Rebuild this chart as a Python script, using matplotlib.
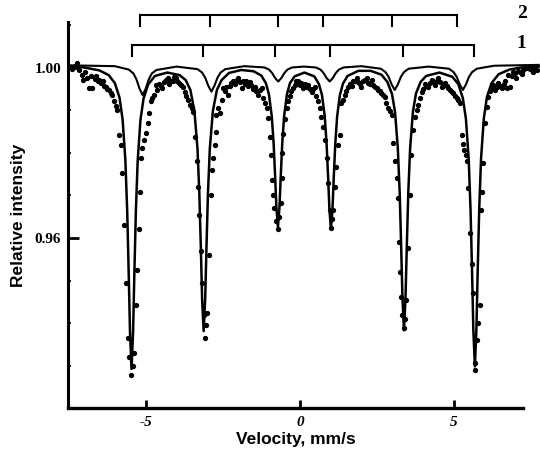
import matplotlib
matplotlib.use("Agg")
import matplotlib.pyplot as plt
from matplotlib.ticker import MultipleLocator

# measured spectrum (velocity mm/s, relative intensity)
vel = [-7.45, -7.38, -7.30, -7.22, -7.15, -7.08, -7.05, -6.97, -6.89, -6.84,
       -6.78, -6.73, -6.66, -6.62, -6.56, -6.51, -6.46, -6.40, -6.35, -6.30,
       -6.24, -6.19, -6.13, -6.08, -6.02, -5.97, -5.92, -5.87, -5.81, -5.76,
       -5.70, -5.65, -5.59, -5.53, -5.47, -5.42, -5.38, -5.30, -5.27, -5.22,
       -5.19, -5.16, -5.11, -5.05, -5.00, -4.94, -4.89, -4.84, -4.78, -4.73,
       -4.68, -4.62, -4.57, -4.51, -4.46, -4.40, -4.35, -4.29, -4.24, -4.18,
       -4.13, -4.08, -4.03, -3.97, -3.92, -3.86, -3.79, -3.73, -3.68, -3.62,
       -3.57, -3.51, -3.46, -3.41, -3.35, -3.30, -3.27, -3.22, -3.16, -3.11,
       -3.08, -3.04, -3.00, -2.95, -2.89, -2.84, -2.81, -2.76, -2.73, -2.71,
       -2.65, -2.60, -2.54, -2.49, -2.44, -2.38, -2.33, -2.27, -2.22, -2.16,
       -2.11, -2.05, -2.00, -1.95, -1.89, -1.84, -1.78, -1.73, -1.68, -1.62,
       -1.57, -1.51, -1.46, -1.41, -1.35, -1.30, -1.24, -1.19, -1.14, -1.08,
       -1.03, -0.97, -0.92, -0.89, -0.86, -0.83, -0.78, -0.72, -0.67, -0.62,
       -0.59, -0.57, -0.54, -0.49, -0.43, -0.38, -0.32, -0.27, -0.22, -0.16,
       -0.11, -0.05, 0.00, 0.05, 0.11, 0.16, 0.22, 0.27, 0.32, 0.38,
       0.43, 0.49, 0.54, 0.59, 0.65, 0.70, 0.76, 0.81, 0.87, 0.92,
       0.97, 1.01, 1.05, 1.08, 1.13, 1.19, 1.24, 1.29, 1.35, 1.40,
       1.46, 1.51, 1.57, 1.62, 1.68, 1.73, 1.78, 1.84, 1.89, 1.95,
       2.00, 2.05, 2.11, 2.17, 2.22, 2.27, 2.33, 2.38, 2.43, 2.49,
       2.54, 2.60, 2.65, 2.70, 2.76, 2.81, 2.87, 2.92, 2.98, 3.03,
       3.08, 3.14, 3.19, 3.21, 3.25, 3.28, 3.33, 3.38, 3.42, 3.46,
       3.52, 3.57, 3.62, 3.66, 3.73, 3.79, 3.84, 3.90, 3.95, 4.01,
       4.06, 4.11, 4.17, 4.22, 4.28, 4.33, 4.38, 4.44, 4.49, 4.55,
       4.60, 4.66, 4.71, 4.77, 4.82, 4.87, 4.93, 4.98, 5.04, 5.09,
       5.14, 5.19, 5.25, 5.30, 5.33, 5.38, 5.41, 5.47, 5.52, 5.58,
       5.63, 5.68, 5.70, 5.74, 5.79, 5.84, 5.88, 5.91, 5.95, 6.01,
       6.06, 6.11, 6.16, 6.22, 6.28, 6.33, 6.39, 6.44, 6.50, 6.55,
       6.61, 6.66, 6.71, 6.76, 6.82, 6.87, 6.93, 6.98, 7.03, 7.09,
       7.14, 7.20, 7.25, 7.31, 7.36, 7.42, 7.47, 7.53, 7.58, 7.64, 7.69]
inten = [1.0003, 0.9998, 1.0005, 1.0011, 0.9996, 0.9984, 0.9972, 0.9990, 0.9976, 0.9952,
         0.9982, 0.9952, 0.9974, 0.9980, 0.9968, 0.9972, 0.9964, 0.9970, 0.9958, 0.9956,
         0.9950, 0.9948, 0.9940, 0.9936, 0.9921, 0.9910, 0.9901, 0.9842, 0.9819, 0.9753,
         0.9631, 0.9493, 0.9364, 0.9320, 0.9278, 0.9300, 0.9329, 0.9442, 0.9525, 0.9620,
         0.9709, 0.9788, 0.9811, 0.9830, 0.9846, 0.9870, 0.9893, 0.9921, 0.9930, 0.9936,
         0.9960, 0.9948, 0.9962, 0.9958, 0.9952, 0.9966, 0.9972, 0.9975, 0.9962, 0.9970,
         0.9968, 0.9978, 0.9976, 0.9968, 0.9964, 0.9960, 0.9954, 0.9944, 0.9935, 0.9925,
         0.9913, 0.9905, 0.9897, 0.9838, 0.9780, 0.9720, 0.9654, 0.9570, 0.9493, 0.9420,
         0.9365, 0.9395, 0.9423, 0.9560, 0.9701, 0.9760, 0.9788, 0.9819, 0.9850, 0.9889,
         0.9905, 0.9893, 0.9925, 0.9952, 0.9945, 0.9955, 0.9936, 0.9958, 0.9964, 0.9970,
         0.9962, 0.9972, 0.9976, 0.9966, 0.9952, 0.9970, 0.9962, 0.9968, 0.9958, 0.9966,
         0.9960, 0.9950, 0.9955, 0.9945, 0.9936, 0.9948, 0.9952, 0.9930, 0.9918, 0.9905,
         0.9882, 0.9838, 0.9795, 0.9736, 0.9700, 0.9670, 0.9640, 0.9620, 0.9650, 0.9682,
         0.9740, 0.9800, 0.9845, 0.9880, 0.9905, 0.9921, 0.9935, 0.9945, 0.9952, 0.9960,
         0.9968, 0.9968, 0.9960, 0.9965, 0.9952, 0.9962, 0.9955, 0.9960, 0.9950, 0.9944,
         0.9950, 0.9956, 0.9935, 0.9921, 0.9905, 0.9885, 0.9862, 0.9830, 0.9788, 0.9730,
         0.9665, 0.9624, 0.9645, 0.9666, 0.9720, 0.9768, 0.9819, 0.9842, 0.9917, 0.9925,
         0.9936, 0.9945, 0.9956, 0.9962, 0.9958, 0.9968, 0.9970, 0.9976, 0.9966, 0.9962,
         0.9956, 0.9968, 0.9972, 0.9976, 0.9965, 0.9962, 0.9972, 0.9960, 0.9955, 0.9952,
         0.9948, 0.9945, 0.9940, 0.9936, 0.9932, 0.9918, 0.9905, 0.9898, 0.9889, 0.9823,
         0.9780, 0.9740, 0.9693, 0.9591, 0.9520, 0.9462, 0.9420, 0.9389, 0.9410, 0.9454,
         0.9576, 0.9701, 0.9795, 0.9854, 0.9885, 0.9900, 0.9913, 0.9930, 0.9944, 0.9950,
         0.9962, 0.9958, 0.9956, 0.9965, 0.9972, 0.9968, 0.9960, 0.9970, 0.9976, 0.9966,
         0.9956, 0.9962, 0.9964, 0.9958, 0.9952, 0.9948, 0.9944, 0.9940, 0.9934, 0.9929,
         0.9925, 0.9917, 0.9842, 0.9820, 0.9807, 0.9795, 0.9780, 0.9717, 0.9611, 0.9540,
         0.9470, 0.9305, 0.9290, 0.9360, 0.9400, 0.9442, 0.9666, 0.9709, 0.9776, 0.9870,
         0.9909, 0.9932, 0.9945, 0.9952, 0.9960, 0.9948, 0.9956, 0.9965, 0.9958, 0.9952,
         0.9962, 0.9970, 0.9952, 0.9984, 0.9956, 0.9980, 0.9990, 0.9988, 0.9975, 0.9993,
         0.9991, 0.9986, 0.9995, 1.0000, 0.9999, 1.0003, 0.9998, 0.9996, 0.9990, 1.0001, 0.9994]

# fitted subspectrum 1 (deep sextet)
fit1_v = [-7.50, -7.00, -6.50, -6.20, -6.00, -5.85, -5.75, -5.66, -5.60, -5.55,
          -5.51, -5.46, -5.41, -5.37, -5.32, -5.26, -5.17, -5.07, -4.92, -4.70,
          -4.30, -3.90, -3.70, -3.55, -3.42, -3.32, -3.26, -3.21, -3.17, -3.12,
          -3.07, -3.03, -2.98, -2.92, -2.82, -2.69, -2.54, -2.30, -1.90, -1.50,
          -1.25, -1.10, -1.00, -0.91, -0.85, -0.80, -0.76, -0.71, -0.66, -0.62,
          -0.57, -0.51, -0.42, -0.32, -0.17, 0.15, 0.47, 0.62, 0.72, 0.81,
          0.87, 0.92, 0.96, 1.01, 1.06, 1.10, 1.15, 1.21, 1.30, 1.40,
          1.55, 1.90, 2.30, 2.65, 2.84, 2.99, 3.09, 3.18, 3.24, 3.29,
          3.33, 3.38, 3.43, 3.47, 3.52, 3.58, 3.67, 3.77, 3.92, 4.10,
          4.53, 4.95, 5.14, 5.29, 5.39, 5.48, 5.54, 5.59, 5.63, 5.68,
          5.73, 5.77, 5.82, 5.88, 5.97, 6.07, 6.22, 6.45, 6.80, 7.20, 7.75]
fit1_i = [1.0003, 1.0001, 0.9994, 0.9983, 0.9964, 0.9930, 0.9879, 0.9783, 0.9662, 0.9512,
          0.9379, 0.9292, 0.9378, 0.9511, 0.9661, 0.9782, 0.9878, 0.9928, 0.9961, 0.9981,
          0.9989, 0.9983, 0.9971, 0.9948, 0.9899, 0.9810, 0.9705, 0.9574, 0.9457, 0.9381,
          0.9457, 0.9574, 0.9705, 0.9810, 0.9899, 0.9948, 0.9971, 0.9988, 0.9995, 0.9992,
          0.9982, 0.9964, 0.9937, 0.9886, 0.9823, 0.9743, 0.9672, 0.9626, 0.9672, 0.9743,
          0.9822, 0.9886, 0.9937, 0.9964, 0.9980, 0.9989, 0.9980, 0.9962, 0.9936, 0.9885,
          0.9820, 0.9740, 0.9668, 0.9620, 0.9668, 0.9740, 0.9820, 0.9885, 0.9936, 0.9963,
          0.9981, 0.9993, 0.9993, 0.9984, 0.9967, 0.9939, 0.9896, 0.9811, 0.9707, 0.9576,
          0.9460, 0.9383, 0.9461, 0.9577, 0.9708, 0.9812, 0.9897, 0.9940, 0.9967, 0.9981,
          0.9989, 0.9979, 0.9962, 0.9929, 0.9880, 0.9785, 0.9665, 0.9517, 0.9385, 0.9298,
          0.9386, 0.9518, 0.9666, 0.9786, 0.9881, 0.9931, 0.9964, 0.9985, 0.9996, 1.0001, 1.0003]

# fitted subspectrum 2 (shallow sextet)
fit2_v = [-7.50, -6.00, -5.55, -5.40, -5.30, -5.20, -5.10, -5.00, -4.90, -4.80,
          -4.65, -4.00, -3.32, -3.17, -3.07, -2.97, -2.87, -2.77, -2.67, -2.57,
          -2.42, -1.80, -1.15, -1.00, -0.90, -0.80, -0.70, -0.60, -0.50, -0.40,
          -0.25, 0.13, 0.52, 0.67, 0.77, 0.87, 0.97, 1.07, 1.17, 1.27,
          1.42, 2.00, 2.63, 2.78, 2.88, 2.98, 3.08, 3.18, 3.28, 3.38,
          3.53, 4.18, 4.84, 4.99, 5.09, 5.19, 5.29, 5.39, 5.49, 5.59,
          5.74, 6.30, 7.75]
fit2_i = [1.0006, 1.0004, 0.9996, 0.9987, 0.9973, 0.9951, 0.9936, 0.9951, 0.9973, 0.9987,
          0.9995, 1.0003, 0.9997, 0.9989, 0.9977, 0.9958, 0.9944, 0.9958, 0.9977, 0.9989,
          0.9997, 1.0004, 1.0001, 0.9996, 0.9988, 0.9976, 0.9968, 0.9976, 0.9988, 0.9996,
          1.0001, 1.0003, 1.0001, 0.9996, 0.9988, 0.9976, 0.9968, 0.9976, 0.9988, 0.9996,
          1.0001, 1.0004, 0.9998, 0.9990, 0.9979, 0.9961, 0.9948, 0.9961, 0.9979, 0.9990,
          0.9998, 1.0003, 0.9998, 0.9990, 0.9979, 0.9961, 0.9948, 0.9961, 0.9979, 0.9990,
          0.9998, 1.0005, 1.0007]

# line positions marked by the brackets
lines_1 = [-5.45, -3.15, -0.81, 0.97, 3.34, 5.65]
lines_2 = [-5.19, -2.92, -0.71, 0.75, 2.99, 5.10]

serif = "Liberation Serif"
sans = "Liberation Sans"

fig = plt.figure(figsize=(5.4, 4.57), dpi=100)
ax = fig.add_axes([0.126, 0.107, 0.843, 0.845])

ax.plot(fit2_v, fit2_i, color="black", lw=1.5, clip_on=False, zorder=3)
ax.plot(fit1_v, fit1_i, color="black", lw=1.8, clip_on=False, zorder=3)
ax.plot(vel, inten, linestyle="None", marker="o", ms=2.8, color="black",
        clip_on=False, zorder=4)

# brackets above the spectrum
for pos, y0, lab in [(lines_2, 1.01247, "2"), (lines_1, 1.00541, "1")]:
    ax.plot([pos[0], pos[-1]], [y0, y0], color="black", lw=1.5, clip_on=False)
    for p in pos:
        ax.plot([p, p], [y0, y0 - 0.0027], color="black", lw=1.5, clip_on=False)
    ax.text(7.2, y0 + 0.0004, lab, fontsize=14, fontweight="bold",
            family=serif, ha="center", va="center")

ax.set_xlim(-7.52, 7.25)
ax.set_ylim(0.92, 1.0108)

ax.spines["top"].set_visible(False)
ax.spines["right"].set_visible(False)
ax.spines["left"].set_linewidth(2.2)
ax.spines["bottom"].set_linewidth(2.4)

ax.set_xticks([-5, 0, 5])
ax.set_xticklabels(["-5", "0", "5"], family=serif, fontsize=11,
                   fontstyle="italic", fontweight="bold")
ax.set_yticks([0.96, 1.00])
ax.set_yticklabels(["0.96", "1.00"], family=serif, fontsize=11, fontweight="bold")
ax.yaxis.set_minor_locator(MultipleLocator(0.01))
ax.tick_params(axis="x", direction="in", length=6, width=2, pad=6)
ax.tick_params(axis="y", which="major", direction="in", length=8, width=2, pad=5)
ax.tick_params(axis="y", which="minor", direction="in", length=2.5, width=1.2)

ax.set_xlabel("Velocity, mm/s", family=sans, fontsize=12.5, fontweight="bold",
              labelpad=2)
ax.set_ylabel("Relative intensity", family=sans, fontsize=12.5, fontweight="bold",
              labelpad=6)

fig.savefig("out.png", dpi=100)
